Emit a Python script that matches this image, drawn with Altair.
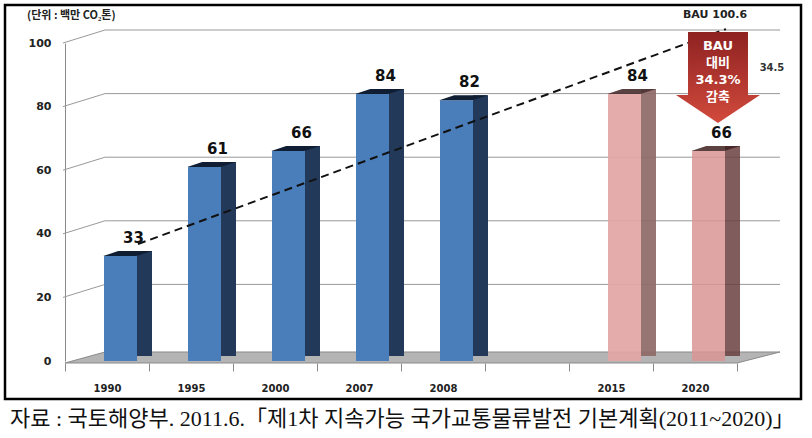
import altair as alt
import pandas as pd

# ---------------- data ----------------
slots = ["1990", "1995", "2000", "2007", "2008", " ", "2015", "2020"]
years = ["1990", "1995", "2000", "2007", "2008", "2015", "2020"]
emissions = [33, 61, 66, 84, 82, 84, 66]
series = ["실적", "실적", "실적", "실적", "실적", "2015", "2020"]
y_ticks = [0, 20, 40, 60, 80, 100]
grid_values = [20, 40, 60, 80, 100]
trend_years = ["1990", "2020"]
trend_values = [33, 100.6]
bau_year = ["2020"]
bau_value = [100.6]
bau_label = "BAU 100.6"
reduction_text = ["BAU", "대비", "34.3%", "감축"]
gap_label = "34.5"
unit_label = "(단위 : 백만 CO₂톤)"
caption = "자료 : 국토해양부. 2011.6.「제1차 지속가능 국가교통물류발전 기본계획(2011~2020)」"

bars = pd.DataFrame({"year": years, "v": emissions, "s": series})
grid = pd.DataFrame({"v": grid_values})
trend = pd.DataFrame({"year": trend_years, "v": trend_values})
bau = pd.DataFrame({"year": bau_year, "v": bau_value})
one = pd.DataFrame({"a": [0]})

W, H = 672, 318
FONT = "DejaVu Sans"
KFONT = "Noto Sans CJK KR"

x_enc = alt.X(
    "year:N",
    scale=alt.Scale(domain=slots, paddingInner=0, paddingOuter=0),
    axis=alt.Axis(
        title=None, domain=False, tickBand="extent", tickSize=8, tickColor="#8a8a8a",
        offset=2, labelPadding=12, labelAngle=0, labelFont=FONT, labelFontSize=10,
        labelFontWeight="bold", labelColor="#222222",
    ),
)
y_scale = alt.Scale(domain=[0, 100], nice=False, zero=True)
y_enc = alt.Y(
    "v:Q",
    scale=y_scale,
    axis=alt.Axis(
        title=None, values=y_ticks, grid=False, domainColor="#8a8a8a", tickSize=0,
        labelPadding=14, labelFont=FONT, labelFontSize=11, labelFontWeight="bold",
        labelColor="#222222",
    ),
)

s_dom = ["실적", "2015", "2020"]
front_c = alt.Color("s:N", scale=alt.Scale(domain=s_dom, range=["#4a7ebb", "#e2a6a5", "#d99594"]), legend=None)
side_c = alt.Color("s:N", scale=alt.Scale(domain=s_dom, range=["#22395a", "#8e6a67", "#6b3f3f"]), legend=None)
top_c = alt.Color("s:N", scale=alt.Scale(domain=s_dom, range=["#0f1e33", "#4d3333", "#3f2020"]), legend=None)
op = alt.Opacity("s:N", scale=alt.Scale(domain=s_dom, range=[1, 0.85, 1]), legend=None)

# 3D gridlines (front slant + back wall)
grid_slant = alt.Chart(grid).mark_rule(color="#999999", strokeWidth=1, y2Offset=-13).encode(
    x=alt.value(-2), x2=alt.value(40), y=y_enc, y2=alt.Y2("v")
)
grid_back = alt.Chart(grid).mark_rule(color="#999999", strokeWidth=1, yOffset=-13, y2Offset=-13).encode(
    x=alt.value(40), x2=alt.value(715), y=y_enc, y2=alt.Y2("v")
)

# floor slab
floor_path = "M -1 0.0154 L -0.888 -0.0154 L 1 -0.0154 L 0.8797 0.0154 Z"
floor = alt.Chart(one).mark_point(
    shape=floor_path, size=715 * 715, filled=True, fill="#b4b4b4", stroke="#8a8a8a",
    strokeWidth=1, opacity=1,
).encode(x=alt.value(357.5), y=alt.value(H - 3.5))

front = alt.Chart(bars).mark_bar(width=33, xOffset=13.5).encode(x=x_enc, y=y_enc, color=front_c, opacity=op)
side = alt.Chart(bars).mark_bar(width=15, xOffset=37.5, yOffset=-5).encode(x=x_enc, y=y_enc, color=side_c, opacity=op)
top_path = "M -1 0.102 L 0.347 0.102 L 1 -0.102 L -0.388 -0.102 Z"
top = alt.Chart(bars).mark_point(shape=top_path, size=49 * 49, filled=True, xOffset=20.75, yOffset=-2.5, strokeWidth=0).encode(
    x=x_enc, y=y_enc, color=top_c, opacity=op
)

values_txt = alt.Chart(bars).mark_text(
    font=FONT, fontSize=15, fontWeight="bold", color="#111111", xOffset=26.5, yOffset=-18, baseline="middle"
).encode(x=x_enc, y=y_enc, text=alt.Text("v:Q"))

trend_line = alt.Chart(trend).mark_line(
    color="#111111", strokeWidth=2, strokeDash=[8, 5], xOffset=31, yOffset=-12
).encode(x=x_enc, y=y_enc)

arrow_path = "M -0.659 -1 L 0.659 -1 L 0.659 0.385 L 0.923 0.385 L 0 1 L -0.923 0.385 L -0.659 0.385 Z"
arrow = alt.Chart(bau).mark_point(
    shape=arrow_path, size=91 * 91, filled=True, strokeWidth=0, opacity=1, xOffset=23, yOffset=36.5,
    color=alt.Gradient(
        gradient="linear", x1=0, x2=0, y1=0, y2=1,
        stops=[alt.GradientStop(color="#8e2222", offset=0), alt.GradientStop(color="#d24a3c", offset=1)],
    ),
).encode(x=x_enc, y=y_enc)

arrow_lines = [
    alt.Chart(bau).mark_text(
        font=(KFONT if any(ord(ch) > 0x1100 for ch in line) else FONT),
        fontSize=13, fontWeight="bold", color="white",
        baseline="middle", align="center", xOffset=23, yOffset=5 + 17 * i,
    ).encode(x=x_enc, y=y_enc, text=alt.value(line))
    for i, line in enumerate(reduction_text)
]

bau_txt = alt.Chart(bau).mark_text(
    font=FONT, fontSize=11, fontWeight="bold", color="#222222", xOffset=20, yOffset=-26, baseline="middle"
).encode(x=x_enc, y=y_enc, text=alt.value(bau_label))

gap_txt = alt.Chart(bau).mark_text(
    font=FONT, fontSize=10, fontWeight="bold", color="#333333", xOffset=77, yOffset=27, baseline="middle"
).encode(x=x_enc, y=y_enc, text=alt.value(gap_label))

unit_txt = alt.Chart(one).mark_text(
    font=KFONT, fontSize=11, fontWeight="bold", color="#222222", align="left", baseline="middle"
).encode(x=alt.value(-38), y=alt.value(-27), text=alt.value(unit_label))

caption_txt = alt.Chart(one).mark_text(
    font="Liberation Serif, Noto Sans CJK KR", fontSize=22, color="#111111", align="left", baseline="middle"
).encode(x=alt.value(-55), y=alt.value(376), text=alt.value(caption))

frame = alt.Chart(one).mark_rect(fill=None, stroke="#000000", strokeWidth=2.5).encode(
    x=alt.value(-60), x2=alt.value(736), y=alt.value(-38), y2=alt.value(356)
)

chart = alt.layer(
    grid_slant, grid_back, floor, front, side, top, trend_line, values_txt,
    arrow, *arrow_lines, bau_txt, gap_txt, unit_txt, caption_txt, frame,
).resolve_scale(color="independent", opacity="independent").properties(
    width=W, height=H,
    autosize=alt.AutoSizeParams(type="none"),
    padding={"left": 65, "top": 43, "right": 75, "bottom": 77},
    background="white",
).configure_view(stroke=None)

chart.save("out.html", embed_options={"renderer": "svg", "actions": False})
